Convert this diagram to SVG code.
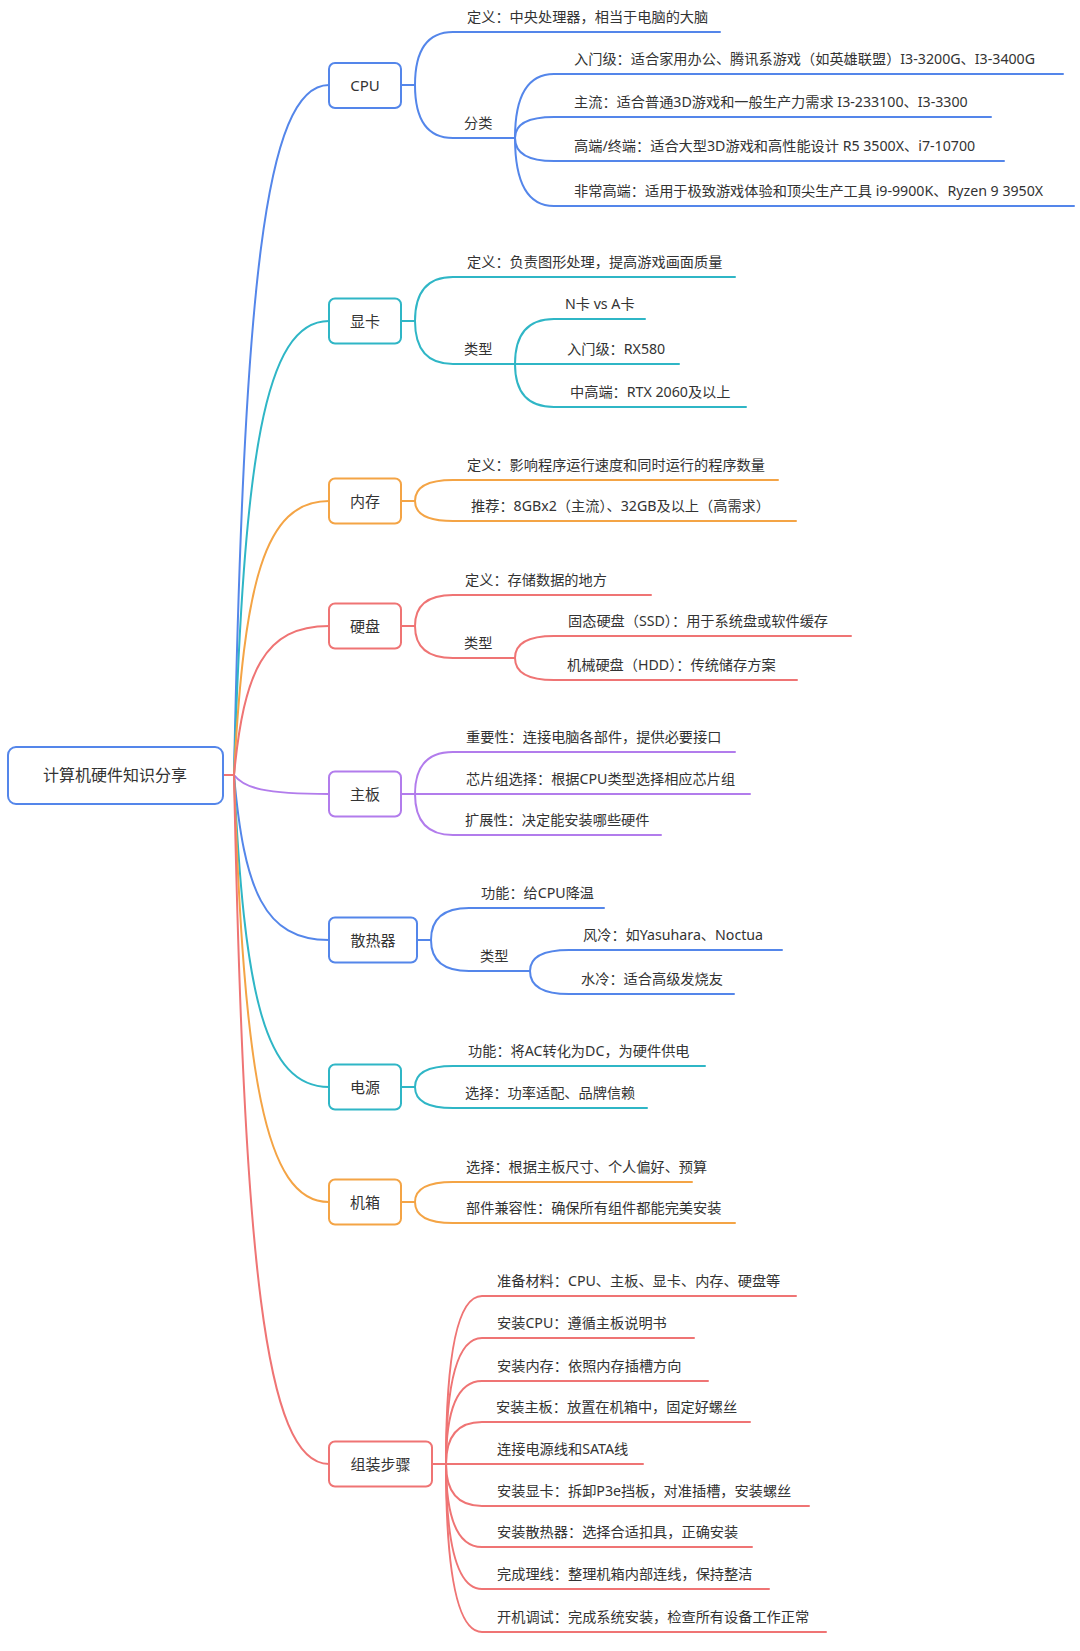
<svg xmlns="http://www.w3.org/2000/svg" width="1080" height="1651" viewBox="0 0 1080 1651">
<style>
text{font-family:"Noto Sans","Noto Sans CJK SC",sans-serif;fill:#333;}
.t{font-size:14.2px;}
.n{font-size:15px;text-anchor:middle;}
.r{font-size:16px;text-anchor:middle;}
path{fill:none;stroke-width:2;stroke-linecap:round;}
rect{fill:#fff;stroke-width:2;}
.b{stroke:#5486EA;} .c{stroke:#2FB6C6;} .o{stroke:#F4A445;} .red{stroke:#EF7474;} .p{stroke:#B27CEC;}
</style>
<rect width="1080" height="1651" fill="#fff" stroke="none"/>
<g id="connectors">
<path class="b" d="M234,775 C244,292 264,85 329,85"/>
<path class="c" d="M234,775 C244,457 264,321 329,321"/>
<path class="o" d="M234,775 C244,583 264,501 329,501"/>
<path class="red" d="M234,775 C244,671 264,626 329,626"/>
<path class="p" d="M234,775 C244,788 264,794 329,794"/>
<path class="b" d="M234,775 C244,890 264,940 329,940"/>
<path class="c" d="M234,775 C244,993 264,1087 329,1087"/>
<path class="o" d="M234,775 C244,1074 264,1202 329,1202"/>
<path class="red" d="M234,775 C244,1257 264,1464 329,1464"/>
<path class="red" d="M223,775 H234"/>
<path class="b" d="M401,85 H415"/>
<path class="b" d="M415,85 Q415,32 453,32 H720"/>
<path class="b" d="M415,85 Q415,138 453,138 H515"/>
<path class="b" d="M515,138 Q515,74 554,74 H1063"/>
<path class="b" d="M515,138 Q515,117 554,117 H991"/>
<path class="b" d="M515,138 Q515,161 554,161 H1004"/>
<path class="b" d="M515,138 Q515,206 554,206 H1074"/>
<path class="c" d="M401,321 H415"/>
<path class="c" d="M415,321 Q415,277 453,277 H735"/>
<path class="c" d="M415,321 Q415,364 453,364 H515"/>
<path class="c" d="M515,364 Q515,319 554,319 H645"/>
<path class="c" d="M515,364 H679"/>
<path class="c" d="M515,364 Q515,407 554,407 H746"/>
<path class="o" d="M401,501 H415"/>
<path class="o" d="M415,501 Q415,480 453,480 H778"/>
<path class="o" d="M415,501 Q415,521 453,521 H796"/>
<path class="red" d="M401,626 H415"/>
<path class="red" d="M415,626 Q415,595 453,595 H651"/>
<path class="red" d="M415,626 Q415,658 453,658 H515"/>
<path class="red" d="M515,658 Q515,636 554,636 H851"/>
<path class="red" d="M515,658 Q515,680 554,680 H797"/>
<path class="p" d="M401,794 H415"/>
<path class="p" d="M415,794 Q415,752 453,752 H735"/>
<path class="p" d="M415,794 H750"/>
<path class="p" d="M415,794 Q415,835 453,835 H661"/>
<path class="b" d="M417,940 H431"/>
<path class="b" d="M431,940 Q431,908 469,908 H604"/>
<path class="b" d="M431,940 Q431,971 469,971 H530"/>
<path class="b" d="M530,971 Q530,950 569,950 H782"/>
<path class="b" d="M530,971 Q530,994 569,994 H734"/>
<path class="c" d="M401,1087 H415"/>
<path class="c" d="M415,1087 Q415,1066 453,1066 H705"/>
<path class="c" d="M415,1087 Q415,1108 453,1108 H647"/>
<path class="o" d="M401,1202 H415"/>
<path class="o" d="M415,1202 Q415,1182 453,1182 H692"/>
<path class="o" d="M415,1202 Q415,1223 453,1223 H735"/>
<path class="red" d="M432,1464 H446"/>
<path class="red" d="M446,1464 Q446,1296 482,1296 H796"/>
<path class="red" d="M446,1464 Q446,1338 482,1338 H694"/>
<path class="red" d="M446,1464 Q446,1381 482,1381 H708"/>
<path class="red" d="M446,1464 Q446,1422 482,1422 H750"/>
<path class="red" d="M446,1464 H643"/>
<path class="red" d="M446,1464 Q446,1506 482,1506 H809"/>
<path class="red" d="M446,1464 Q446,1547 482,1547 H752"/>
<path class="red" d="M446,1464 Q446,1589 482,1589 H769"/>
<path class="red" d="M446,1464 Q446,1632 482,1632 H826"/>
</g>
<g id="root"><rect class="b" x="8" y="747" width="215" height="57" rx="8"/><text class="r" x="115" y="781">计算机硬件知识分享</text></g>
<g id="cpu"><rect class="b" x="329" y="63" width="72" height="45" rx="6"/><text class="n" x="365" y="91">CPU</text>
<text class="t" x="467" y="22">定义：中央处理器，相当于电脑的大脑</text>
<text class="t" x="464" y="128">分类</text>
<text class="t" x="574" y="64">入门级：适合家用办公、腾讯系游戏（如英雄联盟）I3-3200G、I3-3400G</text>
<text class="t" x="574" y="107">主流：适合普通3D游戏和一般生产力需求 I3-233100、I3-3300</text>
<text class="t" x="574" y="151">高端/终端：适合大型3D游戏和高性能设计 R5 3500X、i7-10700</text>
<text class="t" x="574" y="196">非常高端：适用于极致游戏体验和顶尖生产工具 i9-9900K、Ryzen 9 3950X</text></g>
<g id="gpu"><rect class="c" x="329" y="298.5" width="72" height="45" rx="6"/><text class="n" x="365" y="326.5">显卡</text>
<text class="t" x="467" y="267">定义：负责图形处理，提高游戏画面质量</text>
<text class="t" x="464" y="354">类型</text>
<text class="t" x="565" y="309">N卡 vs A卡</text>
<text class="t" x="567" y="354">入门级：RX580</text>
<text class="t" x="570" y="397">中高端：RTX 2060及以上</text></g>
<g id="ram"><rect class="o" x="329" y="478.5" width="72" height="45" rx="6"/><text class="n" x="365" y="506.5">内存</text>
<text class="t" x="467" y="470">定义：影响程序运行速度和同时运行的程序数量</text>
<text class="t" x="471" y="511">推荐：8GBx2（主流）、32GB及以上（高需求）</text></g>
<g id="disk"><rect class="red" x="329" y="603.5" width="72" height="45" rx="6"/><text class="n" x="365" y="631.5">硬盘</text>
<text class="t" x="465" y="585">定义：存储数据的地方</text>
<text class="t" x="464" y="648">类型</text>
<text class="t" x="568" y="626">固态硬盘（SSD）：用于系统盘或软件缓存</text>
<text class="t" x="567" y="670">机械硬盘（HDD）：传统储存方案</text></g>
<g id="mainboard"><rect class="p" x="329" y="771.5" width="72" height="45" rx="6"/><text class="n" x="365" y="799.5">主板</text>
<text class="t" x="466" y="742">重要性：连接电脑各部件，提供必要接口</text>
<text class="t" x="466" y="784">芯片组选择：根据CPU类型选择相应芯片组</text>
<text class="t" x="465" y="825">扩展性：决定能安装哪些硬件</text></g>
<g id="cooler"><rect class="b" x="329" y="917.5" width="88" height="45" rx="6"/><text class="n" x="373" y="945.5">散热器</text>
<text class="t" x="481" y="898">功能：给CPU降温</text>
<text class="t" x="480" y="961">类型</text>
<text class="t" x="583" y="940">风冷：如Yasuhara、Noctua</text>
<text class="t" x="581" y="984">水冷：适合高级发烧友</text></g>
<g id="psu"><rect class="c" x="329" y="1064.5" width="72" height="45" rx="6"/><text class="n" x="365" y="1092.5">电源</text>
<text class="t" x="468" y="1056">功能：将AC转化为DC，为硬件供电</text>
<text class="t" x="465" y="1098">选择：功率适配、品牌信赖</text></g>
<g id="case"><rect class="o" x="329" y="1179.5" width="72" height="45" rx="6"/><text class="n" x="365" y="1207.5">机箱</text>
<text class="t" x="466" y="1172">选择：根据主板尺寸、个人偏好、预算</text>
<text class="t" x="466" y="1213">部件兼容性：确保所有组件都能完美安装</text></g>
<g id="assembly"><rect class="red" x="329" y="1441.5" width="103" height="45" rx="6"/><text class="n" x="380.5" y="1469.5">组装步骤</text>
<text class="t" x="497" y="1286">准备材料：CPU、主板、显卡、内存、硬盘等</text>
<text class="t" x="497" y="1328">安装CPU：遵循主板说明书</text>
<text class="t" x="497" y="1371">安装内存：依照内存插槽方向</text>
<text class="t" x="496" y="1412">安装主板：放置在机箱中，固定好螺丝</text>
<text class="t" x="497" y="1454">连接电源线和SATA线</text>
<text class="t" x="497" y="1496">安装显卡：拆卸P3e挡板，对准插槽，安装螺丝</text>
<text class="t" x="497" y="1537">安装散热器：选择合适扣具，正确安装</text>
<text class="t" x="497" y="1579">完成理线：整理机箱内部连线，保持整洁</text>
<text class="t" x="497" y="1622">开机调试：完成系统安装，检查所有设备工作正常</text></g>
</svg>
